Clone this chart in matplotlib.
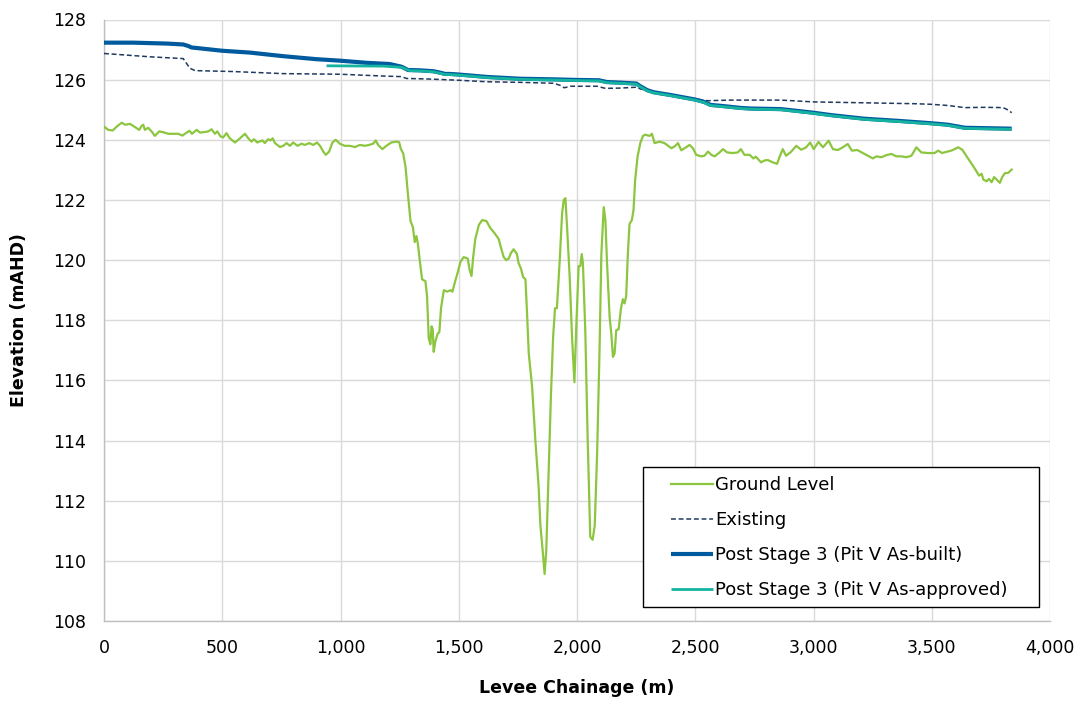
import matplotlib
matplotlib.use("Agg")
import matplotlib.pyplot as plt
from matplotlib.ticker import FuncFormatter
from matplotlib.patches import Rectangle

# ---------------- data ----------------
ground_ch = [0, 18, 37, 54, 75, 89, 110, 131, 149, 159, 166, 173, 187, 201, 215, 234, 251, 272, 290, 314,
             332, 342, 361, 372, 392, 406, 427, 441, 455, 469, 479, 493, 504, 518, 532, 554, 575, 596, 610, 624,
             634, 648, 670, 680, 694, 704, 713, 723, 744, 758, 772, 786, 800, 818, 835, 849, 868, 885, 901, 915,
             927, 938, 952, 966, 980, 997, 1018, 1039, 1061, 1082, 1103, 1121, 1138, 1149, 1159, 1177, 1194, 1215, 1237, 1248,
             1255, 1265, 1275, 1285, 1296, 1306, 1314, 1321, 1327, 1338, 1345, 1359, 1366, 1373, 1380, 1385, 1390, 1394, 1401, 1411,
             1418, 1425, 1437, 1451, 1465, 1473, 1486, 1496, 1507, 1521, 1538, 1546, 1554, 1561, 1570, 1585, 1599, 1617, 1634, 1651,
             1669, 1679, 1690, 1701, 1711, 1721, 1732, 1746, 1753, 1763, 1772, 1782, 1789, 1796, 1810, 1824, 1838, 1845, 1855, 1863,
             1870, 1880, 1890, 1899, 1907, 1915, 1927, 1937, 1944, 1951, 1958, 1969, 1979, 1989, 1997, 2007, 2014, 2020, 2025, 2035,
             2045, 2056, 2066, 2075, 2085, 2095, 2103, 2113, 2120, 2127, 2138, 2145, 2152, 2159, 2166, 2176, 2186, 2194, 2201, 2208,
             2215, 2222, 2232, 2239, 2246, 2256, 2268, 2279, 2289, 2297, 2307, 2317, 2328, 2349, 2370, 2399, 2413, 2427, 2441, 2455,
             2476, 2490, 2504, 2525, 2539, 2554, 2568, 2582, 2603, 2617, 2635, 2659, 2680, 2693, 2708, 2730, 2746, 2756, 2778, 2792,
             2806, 2828, 2846, 2856, 2870, 2884, 2905, 2927, 2948, 2969, 2986, 3001, 3021, 3040, 3064, 3082, 3103, 3124, 3145, 3162,
             3185, 3209, 3230, 3251, 3266, 3287, 3308, 3329, 3350, 3371, 3392, 3414, 3435, 3456, 3484, 3512, 3527, 3544, 3562, 3583,
             3612, 3629, 3655, 3683, 3700, 3711, 3718, 3732, 3742, 3753, 3764, 3774, 3788, 3798, 3809, 3823, 3838]
ground_el = [124.44, 124.33, 124.31, 124.44, 124.57, 124.50, 124.53, 124.42, 124.33, 124.46, 124.50, 124.33, 124.40, 124.28, 124.13, 124.28, 124.25, 124.20, 124.20, 124.20,
             124.14, 124.20, 124.30, 124.20, 124.33, 124.24, 124.26, 124.28, 124.35, 124.20, 124.28, 124.11, 124.08, 124.22, 124.05, 123.91, 124.05, 124.20, 124.05, 123.94,
             124.02, 123.91, 123.98, 123.89, 124.02, 123.98, 124.05, 123.89, 123.76, 123.80, 123.89, 123.80, 123.91, 123.80, 123.87, 123.83, 123.89, 123.83, 123.91, 123.78,
             123.61, 123.50, 123.61, 123.91, 124.00, 123.87, 123.80, 123.80, 123.76, 123.83, 123.80, 123.83, 123.87, 123.98, 123.83, 123.69, 123.80, 123.91, 123.94, 123.92,
             123.70, 123.55, 123.10, 122.20, 121.30, 121.10, 120.60, 120.80, 120.55, 119.80, 119.36, 119.30, 118.80, 117.40, 117.20, 117.80, 117.70, 116.95, 117.30, 117.56,
             117.60, 118.40, 119.00, 118.95, 119.00, 118.95, 119.33, 119.60, 119.94, 120.10, 120.05, 119.67, 119.47, 120.10, 120.70, 121.17, 121.33, 121.30, 121.06, 120.90,
             120.70, 120.40, 120.10, 120.00, 120.05, 120.24, 120.36, 120.20, 119.90, 119.72, 119.44, 119.36, 118.20, 116.90, 115.80, 114.00, 112.44, 111.20, 110.33, 109.56,
             110.33, 112.90, 115.56, 117.44, 118.40, 118.40, 120.00, 121.56, 122.00, 122.06, 121.10, 119.44, 117.44, 115.94, 117.80, 119.80, 119.80, 120.20, 119.90, 117.67,
             114.10, 110.80, 110.70, 111.17, 113.56, 116.90, 120.20, 121.76, 121.33, 119.90, 118.10, 117.56, 116.78, 116.90, 117.67, 117.70, 118.40, 118.70, 118.56, 118.80,
             120.20, 121.20, 121.33, 121.67, 122.67, 123.44, 123.90, 124.13, 124.17, 124.15, 124.13, 124.20, 123.89, 123.94, 123.89, 123.72, 123.78, 123.89, 123.65, 123.72,
             123.83, 123.72, 123.50, 123.45, 123.47, 123.61, 123.50, 123.45, 123.58, 123.69, 123.58, 123.56, 123.58, 123.69, 123.50, 123.50, 123.38, 123.44, 123.25, 123.31,
             123.33, 123.25, 123.20, 123.42, 123.69, 123.47, 123.60, 123.80, 123.67, 123.75, 123.91, 123.69, 123.93, 123.75, 123.97, 123.69, 123.66, 123.75, 123.86, 123.64,
             123.66, 123.56, 123.47, 123.38, 123.45, 123.42, 123.49, 123.53, 123.45, 123.45, 123.42, 123.47, 123.75, 123.58, 123.56, 123.56, 123.64, 123.56, 123.60, 123.64,
             123.75, 123.67, 123.36, 123.03, 122.81, 122.87, 122.68, 122.62, 122.70, 122.59, 122.76, 122.68, 122.57, 122.76, 122.89, 122.90, 123.01]

existing_ch = [0, 194, 335, 349, 363, 385, 546, 758, 1000, 1180, 1258, 1279, 1377, 1500, 1619, 1760, 1901, 1929, 1946, 1972,
               2085, 2120, 2184, 2254, 2268, 2311, 2395, 2499, 2551, 2651, 2863, 3000, 3216, 3428, 3499, 3569, 3640, 3725, 3802, 3823, 3838]
existing_el = [126.87, 126.76, 126.70, 126.54, 126.38, 126.30, 126.27, 126.20, 126.18, 126.12, 126.10, 126.04, 126.02, 125.98, 125.93, 125.91, 125.88, 125.81, 125.73, 125.78,
               125.78, 125.71, 125.72, 125.75, 125.69, 125.61, 125.50, 125.36, 125.30, 125.32, 125.32, 125.26, 125.23, 125.20, 125.18, 125.14, 125.07, 125.08, 125.07, 124.99, 124.90]

asbuilt_ch = [0, 124, 265, 335, 356, 370, 406, 501, 617, 758, 899, 1000, 1110, 1208, 1258, 1286, 1336, 1393, 1428, 1442,
              1463, 1500, 1619, 1760, 1901, 2000, 2092, 2127, 2184, 2251, 2268, 2297, 2325, 2395, 2499, 2537, 2565, 2607, 2692, 2734,
              2863, 3000, 3075, 3216, 3357, 3499, 3569, 3612, 3640, 3838]
asbuilt_el = [127.23, 127.23, 127.20, 127.17, 127.12, 127.07, 127.04, 126.96, 126.90, 126.78, 126.68, 126.63, 126.56, 126.52, 126.43, 126.32, 126.31, 126.28, 126.22, 126.19,
              126.19, 126.17, 126.09, 126.03, 126.01, 125.99, 125.98, 125.92, 125.90, 125.87, 125.78, 125.65, 125.58, 125.49, 125.34, 125.26, 125.16, 125.13, 125.06, 125.04,
              125.02, 124.90, 124.82, 124.70, 124.63, 124.55, 124.50, 124.44, 124.40, 124.37]

approved_ch = [941, 1180, 1258, 1293, 1336, 1393, 1428, 1442, 1463, 1500, 1619, 1760, 1901, 2000, 2092, 2127, 2184, 2251, 2268, 2297,
               2325, 2395, 2499, 2537, 2565, 2607, 2692, 2734, 2863, 3000, 3075, 3216, 3357, 3499, 3569, 3612, 3640, 3838]
approved_el = [126.46, 126.45, 126.41, 126.30, 126.29, 126.26, 126.20, 126.17, 126.17, 126.15, 126.07, 126.01, 125.99, 125.97, 125.96, 125.90, 125.88, 125.85, 125.76, 125.63,
               125.56, 125.47, 125.32, 125.24, 125.14, 125.11, 125.04, 125.02, 125.00, 124.88, 124.80, 124.68, 124.61, 124.53, 124.48, 124.42, 124.38, 124.35]

series_labels = ["Ground Level", "Existing", "Post Stage 3 (Pit V As-built)", "Post Stage 3 (Pit V As-approved)"]
x_ticks = [0, 500, 1000, 1500, 2000, 2500, 3000, 3500, 4000]
y_ticks = [108, 110, 112, 114, 116, 118, 120, 122, 124, 126, 128]

# ---------------- figure ----------------
W, H = 1080, 706
fig = plt.figure(figsize=(W / 100, H / 100), dpi=100)
ax = fig.add_axes([104 / W, 1 - 621 / H, (1050 - 104) / W, (621 - 19.5) / H])

c_ground = "#8CC63F"
c_exist = "#1F3A60"
c_built = "#005A9E"
c_appr = "#14B4A0"

ax.plot(ground_ch, ground_el, color=c_ground, lw=1.6, label=series_labels[0], zorder=3)
ax.plot(existing_ch, existing_el, color=c_exist, lw=1.1, ls=(0, (3.2, 1.8)), label=series_labels[1], zorder=3)
ax.plot(asbuilt_ch, asbuilt_el, color=c_built, lw=3.0, label=series_labels[2], zorder=4, solid_capstyle="butt")
ax.plot(approved_ch, approved_el, color=c_appr, lw=2.0, label=series_labels[3], zorder=5, solid_capstyle="butt")

ax.set_xlim(0, 4000)
ax.set_ylim(108, 128)
ax.set_xticks(x_ticks)
ax.set_yticks(y_ticks)
ax.xaxis.set_major_formatter(FuncFormatter(lambda v, p: f"{int(v):,}"))
ax.grid(True, color="#D9D9D9", lw=1.0, zorder=0)
ax.set_axisbelow(True)
for s in ["top", "right"]:
    ax.spines[s].set_visible(False)
for s in ["left", "bottom"]:
    ax.spines[s].set_color("#BFBFBF")
    ax.spines[s].set_linewidth(1.0)
ax.tick_params(axis="both", length=0, labelsize=12.5, colors="#000000")
ax.tick_params(axis="x", pad=13)
ax.tick_params(axis="y", pad=13)

ax.set_xlabel("Levee Chainage (m)", fontsize=12.5, fontweight="bold", labelpad=16)
ax.set_ylabel("Elevation (mAHD)", fontsize=12.5, fontweight="bold", labelpad=18)

# legend (frame drawn separately to match the wide Excel-style padding)
fig.patches.append(Rectangle((643 / W, 1 - 607 / H), (1039 - 643) / W, (607 - 467) / H,
                             transform=fig.transFigure, fill=True, facecolor="white",
                             edgecolor="#000000", lw=1.0, zorder=10))
leg = fig.legend(loc="upper left", bbox_to_anchor=(671 / W, 1 - 476 / H),
                 fontsize=13, frameon=False,
                 handlelength=2.3, handletextpad=0.15, labelspacing=0.95, borderpad=0.0,
                 borderaxespad=0)
leg.set_zorder(11)

fig.savefig("out.png", dpi=100)
